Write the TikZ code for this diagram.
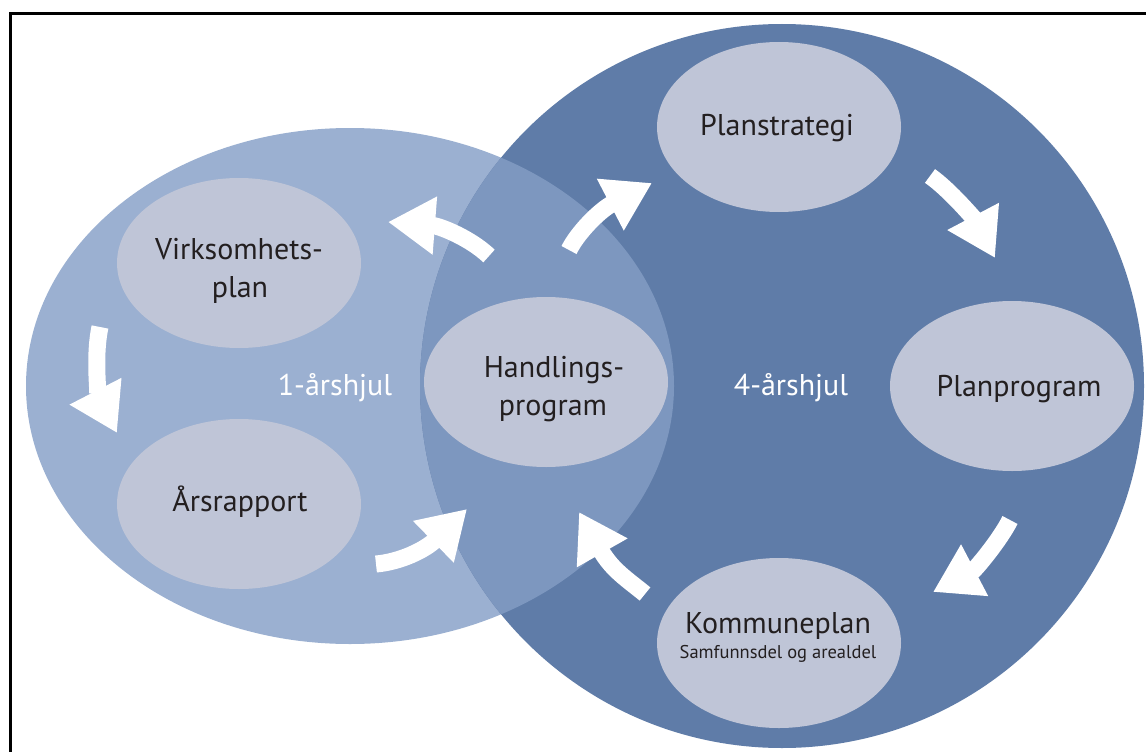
\documentclass[tikz,border=0pt]{standalone}
\usepackage{fontspec}
\setmainfont{PT Sans}
\usetikzlibrary{arrows.meta,shapes.geometric}
\definecolor{wheelone}{HTML}{9BB0D1}
\definecolor{wheelfour}{HTML}{5F7CA8}
\definecolor{wheelboth}{HTML}{7D97BF}
\definecolor{bubblefill}{HTML}{BFC5D7}
\definecolor{inktext}{HTML}{231F20}
\tikzset{
  bubble/.style={ellipse, fill=bubblefill, minimum width=244pt, minimum height=170pt, inner sep=0pt},
  caption/.style={anchor=base, text=inktext, font=\fontsize{30}{35}\selectfont, inner sep=0pt},
  wheellabel/.style={caption, text=white},
  smallcaption/.style={caption, font=\fontsize{18.5}{22}\selectfont},
  flow/.style={draw=white, line width=17pt, -{Triangle[width=55pt,length=47pt]}},
  frameline/.style={draw=black, line width=3pt}
}
\begin{document}
\begin{tikzpicture}[x=1pt,y=-1pt]
\useasboundingbox (0,0) rectangle (1146,752);
\clip (0,0) rectangle (1146,752);
\fill[white] (0,0) rectangle (1146,752);
% frame (only top and left visible)
\draw[frameline] (10.5,780) -- (10.5,13.5) -- (1170,13.5);
% wheels
\fill[wheelone] (350,386) ellipse [x radius=324, y radius=258];
\fill[wheelfour] (782,386) circle [radius=362];
\begin{scope}
  \clip (350,386) ellipse [x radius=324, y radius=258];
  \fill[wheelboth] (782,386) circle [radius=362];
\end{scope}
% bubbles
\node[bubble] (virk) at (239,263) {};
\node[bubble] (aars) at (239,504) {};
\node[bubble] (handl) at (546,382) {};
\node[bubble] (pstrat) at (779,127) {};
\node[bubble] (pprog) at (1012,386) {};
\node[bubble] (komm) at (779,643) {};
% captions
\node[caption] (virkA) at (239,259) {Virksomhets-};
\node[caption] (virkB) at (240,297) {plan};
\node[caption] (aarsT) at (240,511) {Årsrapport};
\node[caption] (handlA) at (554,377) {Handlings-};
\node[caption] (handlB) at (553,415) {program};
\node[caption] (pstratT) at (777,135) {Planstrategi};
\node[caption] (pprogT) at (1019,396) {Planprogram};
\node[caption] (kommT) at (778,633) {Kommuneplan};
\node[smallcaption] (kommS) at (778,658) {Samfunnsdel og arealdel};
\node[wheellabel] (oneyear) at (335,395) {1-årshjul};
\node[wheellabel] (fouryear) at (791,395) {4-årshjul};
% arrows
\coordinate (a1s) at (100,327); \coordinate (a1e) at (117,433);
\draw[flow] (a1s) .. controls (93,360) and (100,400) .. (a1e);
\coordinate (a2s) at (376,564); \coordinate (a2e) at (467,509);
\draw[flow] (a2s) .. controls (400,562) and (425,550) .. (a2e);
\coordinate (a3s) at (645,594); \coordinate (a3e) at (579,512);
\draw[flow] (a3s) .. controls (628,580) and (612,570) .. (a3e);
\coordinate (a4s) at (489,256); \coordinate (a4e) at (388,222);
\draw[flow] (a4s) .. controls (470,238) and (440,226) .. (a4e);
\coordinate (a5s) at (569,250); \coordinate (a5e) at (652,183);
\draw[flow] (a5s) .. controls (578,232) and (600,210) .. (a5e);
\coordinate (a6s) at (930,176); \coordinate (a6e) at (995,258);
\draw[flow] (a6s) .. controls (950,190) and (975,220) .. (a6e);
\coordinate (a7s) at (1010,520); \coordinate (a7e) at (933,592);
\draw[flow] (a7s) .. controls (1000,540) and (975,570) .. (a7e);
\end{tikzpicture}
\end{document}
